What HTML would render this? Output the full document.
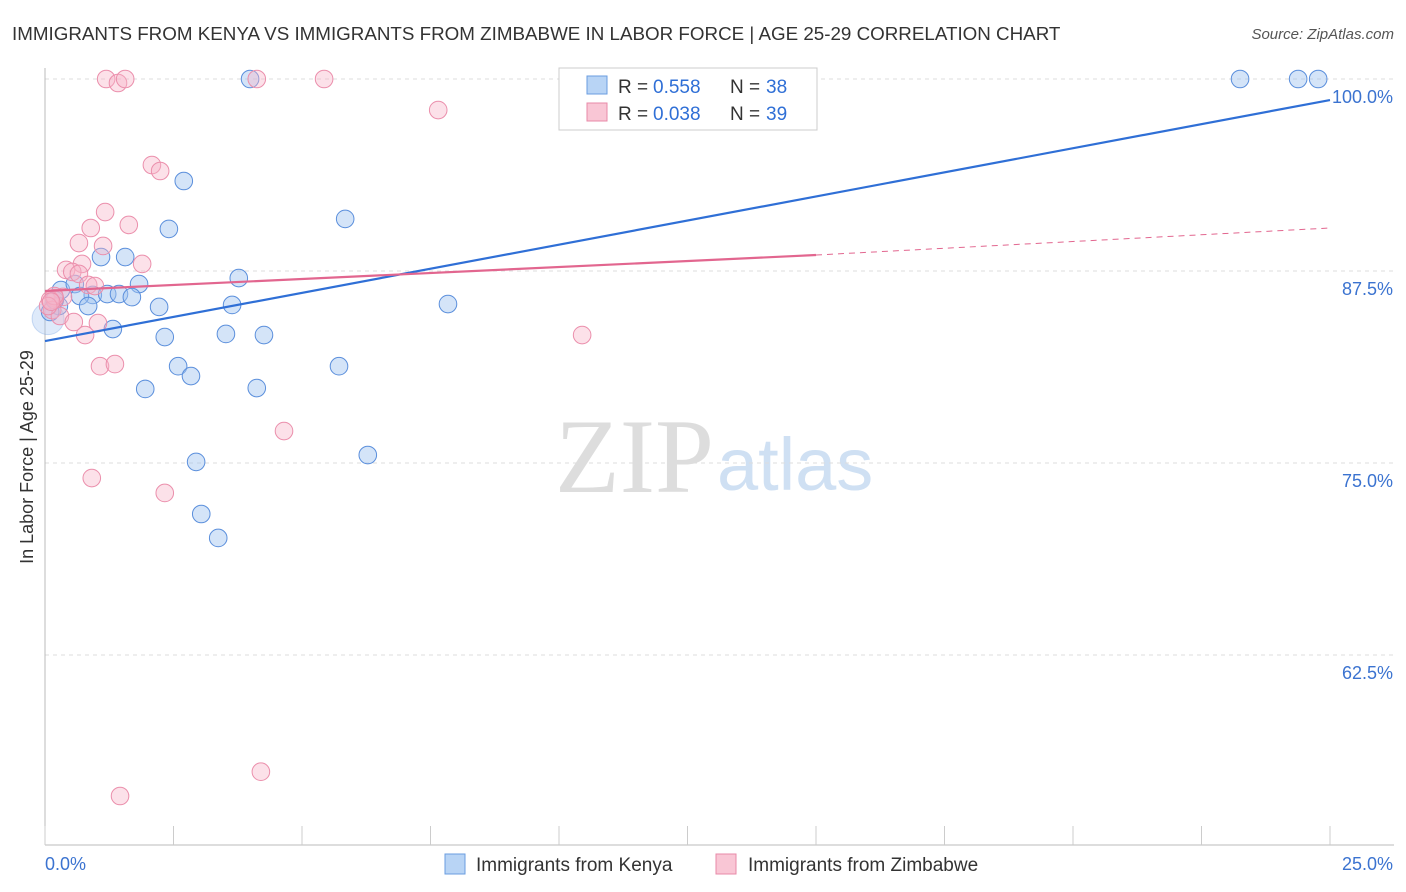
<!DOCTYPE html>
<html><head><meta charset="utf-8"><style>
body{margin:0;background:#fff;font-family:"Liberation Sans",sans-serif}
svg{display:block}
</style></head><body>
<svg id="c" width="1406" height="892">
<text x="12" y="40" font-size="18.8" fill="#333">IMMIGRANTS FROM KENYA VS IMMIGRANTS FROM ZIMBABWE IN LABOR FORCE | AGE 25-29 CORRELATION CHART</text>
<text x="1394" y="39" font-size="15" fill="#555" font-style="italic" text-anchor="end">Source: ZipAtlas.com</text>
<text x="33" y="457" font-size="18" fill="#333" text-anchor="middle" transform="rotate(-90 33 457)">In Labor Force | Age 25-29</text>
<text x="714" y="492" font-size="106" fill="#ddd" text-anchor="end" font-family="Liberation Serif">ZIP</text>
<text x="717" y="490" font-size="74" fill="#cfe0f3">atlas</text>
<g id="grid"></g><g id="pts"></g><g id="lines"></g>
<g>
<rect x="559" y="68" width="258" height="62" fill="#fff" stroke="#ccc"/>
<rect x="587" y="76" width="20" height="18" fill="#b8d4f5" stroke="#6a9de0"/>
<text x="618" y="93" font-size="19" fill="#333">R = </text><text x="653" y="93" font-size="19" fill="#2f6fd6">0.558</text>
<text x="730" y="93" font-size="19" fill="#333">N = </text><text x="766" y="93" font-size="19" fill="#2f6fd6">38</text>
<rect x="587" y="103" width="20" height="18" fill="#f9c6d5" stroke="#e88aa8"/>
<text x="618" y="120" font-size="19" fill="#333">R = </text><text x="653" y="120" font-size="19" fill="#2f6fd6">0.038</text>
<text x="730" y="120" font-size="19" fill="#333">N = </text><text x="766" y="120" font-size="19" fill="#2f6fd6">39</text>
</g>
<g>
<rect x="445" y="854" width="20" height="20" fill="#b8d4f5" stroke="#6a9de0"/>
<text x="476" y="871" font-size="19" fill="#333">Immigrants from Kenya</text>
<rect x="716" y="854" width="20" height="20" fill="#f9c6d5" stroke="#e88aa8"/>
<text x="748" y="871" font-size="19" fill="#333">Immigrants from Zimbabwe</text>
</g>
<text x="45" y="870" font-size="18" fill="#3b73d0">0.0%</text>
<text x="1393" y="870" font-size="18" fill="#3b73d0" text-anchor="end">25.0%</text>
</svg>
<script>
const yTicks=[100,87.5,75,62.5];
const yTickLabels=["100.0%","87.5%","75.0%","62.5%"];
const xTicks=[0,2.5,5,7.5,10,12.5,15,17.5,20,22.5,25];
const kenyaX=[3.99,23.25,24.38,24.77,2.70,5.84,2.41,1.56,1.09,3.77,1.83,0.31,0.58,0.93,1.21,1.44,1.69,0.68,0.84,0.27,2.22,3.64,7.84,1.32,2.33,3.52,4.26,2.59,2.84,5.72,1.95,4.12,6.28,2.94,3.04,3.37,0.10,0.19];
const kenyaY=[100,100,100,100,93.36,90.89,90.24,88.41,88.41,87.04,86.65,86.26,86.65,85.94,86.0,86.0,85.8,85.87,85.22,85.22,85.16,85.29,85.35,83.72,83.2,83.4,83.33,81.3,80.66,81.3,79.82,79.88,75.52,75.07,71.68,70.12,84.83,85.61];
const zimX=[1.19,1.42,1.56,4.12,5.43,7.65,2.08,2.24,1.17,1.63,0.66,0.89,1.13,1.89,0.72,0.41,0.53,0.66,0.84,0.97,0.35,0.19,0.10,0.14,0.29,0.56,1.03,0.78,10.45,1.07,1.36,4.65,0.91,2.33,4.2,1.46,0.18,0.06,0.12];
const zimY=[100,99.74,100,100,100,97.98,94.4,94.01,91.34,90.5,89.32,90.3,89.13,87.96,87.96,87.57,87.44,87.31,86.59,86.52,85.81,85.74,85.61,84.96,84.57,84.18,84.11,83.33,83.33,81.3,81.44,77.08,74.02,73.05,54.9,53.32,85.87,85.22,85.5];
const kenyaTrend=[82.94,98.63];
const zimTrend=[86.2,88.54,90.3];
const X=v=>45+v/25*1285, Y=v=>79+(100-v)/12.5*192;
const NS="http://www.w3.org/2000/svg";
function mk(t,a,p){const e=document.createElementNS(NS,t);for(const k in a)e.setAttribute(k,a[k]);p.appendChild(e);return e;}
const g=document.getElementById('grid');
yTicks.forEach((t,i)=>{
 const l=mk('line',{x1:45,x2:1394,y1:Y(t),y2:Y(t),stroke:'#ddd','stroke-dasharray':'4,4'},g);
 
 
 const tx=mk('text',{x:1393,y:Y(t)+24,'font-size':18,fill:'#3b73d0','text-anchor':'end'},g);
 tx.textContent=yTickLabels[i];
 
 
});
const ax=mk('line',{x1:45,x2:45,y1:68,y2:845,stroke:'#bbb'},g);


const bx=mk('line',{x1:45,x2:1394,y1:845,y2:845,stroke:'#bbb'},g);


xTicks.forEach(t=>{
 const l=mk('line',{x1:X(t),x2:X(t),y1:826,y2:845,stroke:'#ccc'},g);
 
 
});
const p=document.getElementById('pts');
const big=mk('circle',{cx:X(0.06),cy:Y(84.4),r:16,fill:'rgba(160,196,240,0.35)',stroke:'rgba(91,143,220,0.3)'},p);


kenyaX.forEach((v,i)=>{
 const c=mk('circle',{cx:X(v),cy:Y(kenyaY[i]),r:8.8,fill:'rgba(160,196,240,0.45)',stroke:'#5b8fdc','stroke-width':1},p);
 
 
});
zimX.forEach((v,i)=>{
 const c=mk('circle',{cx:X(v),cy:Y(zimY[i]),r:8.8,fill:'rgba(248,180,200,0.4)',stroke:'#eb8fac','stroke-width':1},p);
 
 
});
const L=document.getElementById('lines');
const k=mk('line',{x1:X(0),y1:Y(kenyaTrend[0]),x2:X(25),y2:Y(kenyaTrend[1]),stroke:'#2f6fd6','stroke-width':2.2},L);


const z=mk('line',{x1:X(0),y1:Y(zimTrend[0]),x2:X(15),y2:Y(zimTrend[1]),stroke:'#e2668f','stroke-width':2.2},L);


const zd=mk('line',{x1:X(15),y1:Y(zimTrend[1]),x2:X(25),y2:Y(zimTrend[2]),stroke:'#e2668f','stroke-width':1,'stroke-dasharray':'6,5'},L);


</script>
</body></html>
